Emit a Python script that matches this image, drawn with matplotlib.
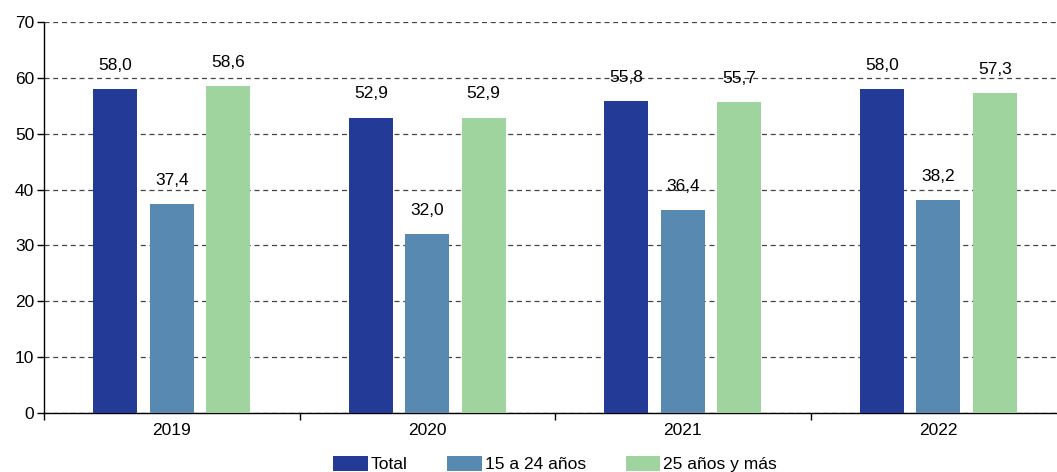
import matplotlib
matplotlib.use("Agg")
import matplotlib.pyplot as plt
import numpy as np

plt.rcParams["font.family"] = ["Liberation Sans", "DejaVu Sans"]

years = ["2019", "2020", "2021", "2022"]
total = [58.0, 52.9, 55.8, 58.0]
jovenes = [37.4, 32.0, 36.4, 38.2]
adultos = [58.6, 52.9, 55.7, 57.3]

series = [
    ("Total", total, "#233a96"),
    ("15 a 24 años", jovenes, "#5889b0"),
    ("25 años y más", adultos, "#9fd49e"),
]

fs = 12.5

fig = plt.figure(figsize=(10.57, 4.72), dpi=100)
ax = fig.add_axes([44 / 1057, 59 / 472, 1022 / 1057, 391 / 472])

x = np.arange(len(years))
width = 0.172
step = 0.221
for i, (name, vals, color) in enumerate(series):
    pos = x + (i - 1) * step
    bars = ax.bar(pos, vals, width, color=color, label=name, zorder=3)
    for b, v in zip(bars, vals):
        ax.annotate(f"{v:.1f}".replace(".", ","), (b.get_x() + b.get_width() / 2, v),
                    xytext=(0, 17), textcoords="offset points",
                    ha="center", va="center", fontsize=fs)

ax.set_xlim(-0.5, 3.5)
ax.set_ylim(0, 70)
ax.set_yticks(range(0, 71, 10))
ax.yaxis.grid(True, linestyle=(0, (4, 3)), color="#444444", linewidth=0.9, zorder=0)
ax.set_axisbelow(True)

ax.set_xticks(x)
ax.set_xticklabels(years)
ax.set_xticks([-0.5, 0.5, 1.5, 2.5], minor=True)
ax.tick_params(axis="x", which="major", length=0, pad=7, labelsize=fs)
ax.tick_params(axis="x", which="minor", length=5, width=1, direction="out")
ax.tick_params(axis="y", length=5, width=1, direction="out", labelsize=fs, pad=2)

for s in ["top", "right"]:
    ax.spines[s].set_visible(False)
ax.spines["left"].set_linewidth(1)
ax.spines["bottom"].set_linewidth(1)

ax.legend(loc="upper center", bbox_to_anchor=(0.5, -0.075), ncol=3, frameon=False,
          fontsize=fs, handlelength=2.0, handleheight=0.9, columnspacing=2.3,
          handletextpad=0.15, borderpad=0.3)

fig.savefig("out.png", dpi=100)
